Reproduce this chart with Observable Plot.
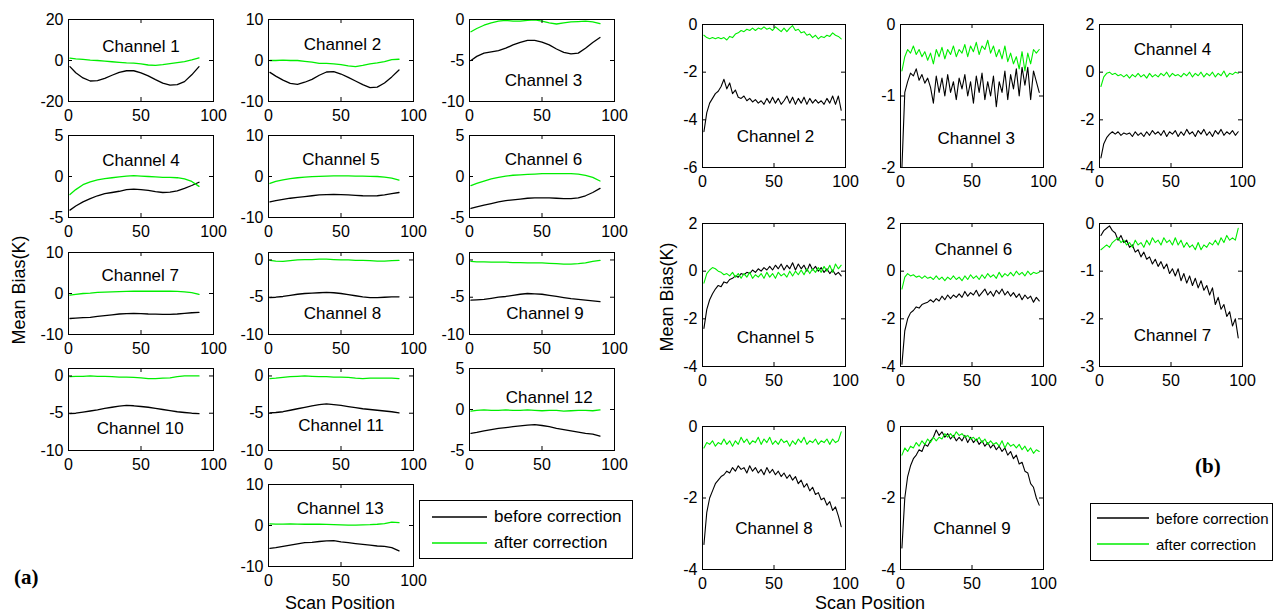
<!DOCTYPE html>
<html><head><meta charset="utf-8">
<script src="https://cdn.jsdelivr.net/npm/d3@7"></script>
<script src="https://cdn.jsdelivr.net/npm/@observablehq/plot@0.6"></script>
<style>
body{margin:0;background:#fff;font-family:"Liberation Sans",Arial,sans-serif;}
#root{position:relative;width:1273px;height:614px;overflow:hidden;background:#fff;}
.abs{position:absolute;white-space:nowrap;color:#000;}
.ylab{font-size:18px;transform:translate(-50%,-50%) rotate(-90deg);}
.xlab{font-size:18px;transform:translate(-50%,-50%);}
.tag{font-family:"Liberation Serif","Times New Roman",serif;font-weight:bold;font-size:21px;}
.legend{border:1px solid #000;background:#fff;box-sizing:border-box;}
</style></head><body><div id="root"></div>
<script>
// ---------- DATA ----------
const scanA = [1,5,10,15,20,25,30,35,40,45,50,55,60,65,70,75,80,85,90];
const scanB = [1,3,5,7,9,11,13,15,17,19,21,23,25,27,29,31,33,35,37,39,41,43,45,47,49,51,53,55,57,59,61,63,65,67,69,71,73,75,77,79,81,83,85,87,89,91,93,95,97];
const xTicks = [0,50,100];
const seriesNames = ["before correction","after correction"];

// (a) panels: before / after correction
const a1b = [-3,-6,-8.5,-10,-9.8,-8.7,-7.2,-5.8,-5,-5,-6,-7.5,-9.3,-11,-12,-11.8,-10.3,-7,-3];
const a1g = [1.2,0.8,0.5,0.2,0,-0.3,-0.6,-0.9,-1.2,-1.3,-1.6,-2.2,-2.4,-2.0,-1.5,-1.0,-0.5,0.3,1.3];
const a2b = [-2.9,-3.8,-4.8,-5.6,-5.8,-5.3,-4.6,-3.6,-2.8,-2.7,-3.3,-4.1,-5.0,-5.9,-6.6,-6.5,-5.5,-4.0,-2.3];
const a2g = [0,0,0.1,0,0,-0.2,-0.4,-0.7,-0.7,-0.8,-1.0,-1.3,-1.5,-1.2,-0.8,-0.6,-0.3,0.2,0.3];
const a3b = [-5.0,-4.5,-4.1,-3.95,-3.8,-3.5,-3.1,-2.8,-2.55,-2.55,-2.75,-3.1,-3.6,-4.0,-4.2,-4.1,-3.5,-2.8,-2.2];
const a3g = [-1.5,-1.1,-0.7,-0.4,-0.2,-0.1,-0.2,-0.2,-0.1,-0.05,-0.2,-0.4,-0.55,-0.4,-0.3,-0.25,-0.2,-0.3,-0.5];
const a4b = [-4.1,-3.6,-3.1,-2.7,-2.35,-2.1,-1.95,-1.8,-1.6,-1.55,-1.6,-1.7,-1.85,-1.95,-1.9,-1.75,-1.45,-1.1,-0.7];
const a4g = [-2.2,-1.6,-1.0,-0.65,-0.4,-0.25,-0.15,-0.05,0.05,0.1,0.05,0,-0.05,-0.1,-0.1,-0.15,-0.3,-0.6,-1.2];
const a5b = [-6.2,-5.9,-5.6,-5.3,-5.1,-4.9,-4.7,-4.5,-4.4,-4.35,-4.4,-4.5,-4.6,-4.7,-4.75,-4.7,-4.5,-4.2,-3.9];
const a5g = [-1.7,-1.2,-0.8,-0.5,-0.3,-0.15,-0.05,0.05,0.1,0.15,0.15,0.15,0.1,0.1,0.05,0,-0.15,-0.4,-0.9];
const a6b = [-3.9,-3.7,-3.5,-3.3,-3.1,-2.95,-2.85,-2.75,-2.65,-2.6,-2.6,-2.6,-2.65,-2.7,-2.7,-2.6,-2.35,-1.95,-1.45];
const a6g = [-1.1,-0.85,-0.55,-0.3,-0.1,0.05,0.15,0.2,0.25,0.3,0.35,0.35,0.35,0.35,0.35,0.3,0.15,-0.1,-0.55];
const a7b = [-6.1,-6.0,-5.9,-5.8,-5.6,-5.4,-5.2,-5.0,-4.9,-4.85,-4.9,-5.0,-5.05,-5.1,-5.1,-5.0,-4.85,-4.7,-4.6];
const a7g = [-0.4,-0.2,0,0.1,0.25,0.35,0.4,0.45,0.5,0.55,0.55,0.55,0.55,0.55,0.55,0.5,0.4,0.2,-0.2];
const a8b = [-5.05,-5.0,-4.9,-4.75,-4.6,-4.5,-4.45,-4.4,-4.35,-4.4,-4.5,-4.65,-4.8,-4.95,-5.05,-5.05,-5.0,-4.95,-4.95];
const a8g = [-0.05,-0.15,-0.2,-0.1,0,0.05,0.05,0.1,0.1,0.05,0,0,-0.05,-0.05,-0.1,-0.15,-0.15,-0.1,-0.05];
const a9b = [-5.4,-5.35,-5.3,-5.15,-5.0,-4.9,-4.75,-4.6,-4.5,-4.55,-4.6,-4.75,-4.9,-5.05,-5.2,-5.3,-5.4,-5.5,-5.6];
const a9g = [-0.2,-0.25,-0.25,-0.3,-0.3,-0.3,-0.35,-0.35,-0.4,-0.4,-0.4,-0.45,-0.5,-0.55,-0.55,-0.5,-0.4,-0.2,-0.05];
const a10b = [-5.05,-5.0,-4.85,-4.7,-4.55,-4.35,-4.2,-4.05,-3.95,-4.0,-4.1,-4.2,-4.35,-4.5,-4.65,-4.8,-4.9,-5.0,-5.05];
const a10g = [-0.1,-0.05,-0.05,0,-0.05,-0.05,-0.1,-0.15,-0.15,-0.2,-0.25,-0.35,-0.35,-0.3,-0.25,-0.1,0,0,0];
const a11b = [-4.95,-4.9,-4.8,-4.6,-4.4,-4.2,-4.0,-3.85,-3.75,-3.85,-3.95,-4.1,-4.25,-4.4,-4.5,-4.6,-4.7,-4.8,-4.95];
const a11g = [-0.35,-0.3,-0.2,-0.1,-0.05,0,-0.05,-0.1,-0.1,-0.15,-0.15,-0.2,-0.3,-0.35,-0.3,-0.3,-0.3,-0.3,-0.35];
const a12b = [-2.9,-2.8,-2.6,-2.45,-2.3,-2.2,-2.1,-2.0,-1.9,-1.85,-1.95,-2.1,-2.3,-2.45,-2.6,-2.75,-2.9,-3.0,-3.25];
const a12g = [-0.2,-0.1,-0.05,-0.1,-0.1,-0.05,-0.1,-0.1,-0.05,-0.1,-0.15,-0.1,-0.1,-0.2,-0.15,-0.1,-0.1,-0.15,-0.05];
const a13b = [-5.6,-5.4,-5.1,-4.8,-4.5,-4.2,-4.1,-3.9,-3.75,-3.7,-4.0,-4.2,-4.4,-4.6,-4.8,-5.0,-5.1,-5.4,-6.2];
const a13g = [0.4,0.35,0.35,0.4,0.35,0.3,0.35,0.3,0.25,0.2,0.15,0.1,0.1,0.15,0.2,0.3,0.45,0.8,0.7];

// (b) panels: before / after correction
const b2b = [-4.5,-3.7,-3.3,-3.1,-2.9,-2.8,-2.6,-2.3,-2.7,-2.45, -2.9,-2.75,-3.05,-3.1,-3.0,-3.2,-3.1,-3.25,-3.15,-3.3, -3.2,-3.35,-3.1,-3.3,-3.05,-3.3,-3.1,-3.35,-3.2,-3.0, -3.3,-3.05,-3.35,-3.1,-3.3,-3.05,-3.35,-3.1,-3.3,-3.15, -3.3,-3.2,-3.35,-3.1,-3.3,-3.0,-3.35,-3.0,-3.6];
const b2g = [-0.45,-0.55,-0.6,-0.55,-0.6,-0.55,-0.6,-0.55,-0.65,-0.5, -0.55,-0.4,-0.35,-0.25,-0.3,-0.2,-0.25,-0.15,-0.25,-0.15, -0.2,-0.1,-0.2,-0.15,-0.25,-0.1,-0.2,-0.3,-0.15,-0.3, -0.15,-0.05,-0.25,-0.2,-0.35,-0.3,-0.45,-0.4,-0.55,-0.45, -0.6,-0.5,-0.55,-0.45,-0.5,-0.35,-0.45,-0.5,-0.6];
const b3b = [-2.0,-0.95,-0.8,-0.68,-0.72,-0.62,-0.78,-0.7,-0.82,-0.75, -0.88,-1.1,-0.72,-0.95,-0.75,-1.0,-0.7,-0.95,-0.8,-1.05, -0.75,-0.9,-0.7,-1.0,-0.8,-1.1,-0.72,-0.95,-0.68,-1.05, -0.8,-1.0,-0.72,-1.15,-0.8,-0.95,-0.65,-1.05,-0.7,-0.9, -0.62,-1.0,-0.6,-0.85,-0.6,-1.05,-0.65,-0.8,-0.95];
const b3g = [-0.65,-0.45,-0.35,-0.4,-0.3,-0.42,-0.35,-0.45,-0.38,-0.5, -0.4,-0.55,-0.35,-0.45,-0.32,-0.48,-0.35,-0.42,-0.3,-0.45, -0.35,-0.4,-0.28,-0.45,-0.3,-0.38,-0.25,-0.42,-0.3,-0.35, -0.22,-0.4,-0.3,-0.45,-0.35,-0.48,-0.3,-0.52,-0.4,-0.55, -0.45,-0.62,-0.38,-0.65,-0.4,-0.55,-0.35,-0.4,-0.35];
const b4b = [-3.6,-3.0,-2.75,-2.6,-2.5,-2.6,-2.5,-2.65,-2.55,-2.6, -2.55,-2.7,-2.5,-2.65,-2.55,-2.7,-2.5,-2.65,-2.45,-2.6, -2.5,-2.65,-2.45,-2.7,-2.5,-2.6,-2.45,-2.7,-2.5,-2.65, -2.4,-2.6,-2.5,-2.7,-2.45,-2.6,-2.4,-2.65,-2.5,-2.7, -2.45,-2.6,-2.4,-2.65,-2.5,-2.6,-2.45,-2.65,-2.5];
const b4g = [-0.6,-0.2,-0.05,0.0,-0.1,-0.05,-0.15,-0.1,-0.2,-0.1, -0.25,-0.1,-0.2,-0.05,-0.2,-0.1,-0.25,-0.05,-0.2,-0.1, -0.2,-0.05,-0.15,0.0,-0.2,-0.05,-0.15,-0.1,-0.2,-0.05, -0.15,0.0,-0.2,-0.05,-0.15,0.0,-0.2,-0.05,-0.15,0.0, -0.2,-0.05,-0.15,0.05,-0.2,-0.05,-0.1,0.0,-0.05];
const b5b = [-2.4,-1.6,-1.2,-0.95,-0.75,-0.6,-0.65,-0.45,-0.5,-0.35, -0.3,-0.2,-0.25,-0.1,-0.15,-0.05,-0.1,0.05,-0.05,0.1, 0.0,0.15,0.05,0.2,0.05,0.25,0.1,0.3,0.05,0.25, 0.1,0.35,0.05,0.3,0.1,0.25,0.0,0.3,0.05,0.2, 0.0,0.15,-0.05,0.1,-0.1,0.05,-0.15,-0.05,-0.2];
const b5g = [-0.5,-0.1,0.05,0.15,0.1,0.0,-0.05,-0.15,-0.1,-0.2, -0.05,-0.25,-0.1,-0.3,-0.1,-0.25,-0.05,-0.3,-0.15,-0.25, -0.1,-0.3,-0.05,-0.25,-0.1,-0.3,-0.05,-0.2,-0.1,-0.25, 0.0,-0.2,0.0,-0.15,0.05,-0.15,0.1,-0.1,0.1,-0.05, 0.15,-0.05,0.2,0.0,0.25,-0.05,0.3,0.1,0.25];
const b6b = [-3.9,-2.5,-2.0,-1.75,-1.65,-1.5,-1.55,-1.4,-1.35,-1.3, -1.2,-1.3,-1.15,-1.25,-1.05,-1.2,-1.0,-1.15,-1.0,-1.1, -0.95,-1.1,-0.85,-1.05,-0.9,-1.0,-0.8,-1.05,-0.9,-0.75, -1.0,-0.85,-1.05,-0.8,-0.95,-0.75,-1.0,-0.85,-1.05,-0.9, -1.1,-0.95,-1.2,-1.0,-1.15,-1.05,-1.3,-1.1,-1.25];
const b6g = [-0.75,-0.25,-0.1,-0.2,-0.15,-0.25,-0.2,-0.3,-0.2,-0.3, -0.25,-0.35,-0.2,-0.35,-0.25,-0.4,-0.25,-0.35,-0.2,-0.35, -0.25,-0.4,-0.2,-0.35,-0.15,-0.3,-0.2,-0.35,-0.15,-0.3, -0.1,-0.25,-0.15,-0.3,-0.05,-0.25,-0.1,-0.2,-0.05,-0.2, 0.0,-0.15,-0.05,-0.2,0.0,-0.15,-0.05,-0.1,-0.05];
const b7b = [-0.25,-0.15,-0.1,-0.05,-0.15,-0.2,-0.35,-0.25,-0.4,-0.35, -0.5,-0.45,-0.6,-0.55,-0.7,-0.6,-0.75,-0.7,-0.85,-0.75, -0.9,-0.8,-0.95,-0.85,-1.05,-0.95,-1.1,-0.95,-1.2,-1.05, -1.25,-1.1,-1.3,-1.15,-1.35,-1.2,-1.4,-1.3,-1.5,-1.35, -1.7,-1.55,-1.8,-1.7,-1.95,-1.85,-2.15,-2.0,-2.4];
const b7g = [-0.55,-0.5,-0.45,-0.5,-0.4,-0.35,-0.3,-0.4,-0.35,-0.45, -0.4,-0.5,-0.35,-0.45,-0.4,-0.5,-0.35,-0.45,-0.3,-0.4, -0.35,-0.45,-0.3,-0.4,-0.35,-0.45,-0.3,-0.45,-0.35,-0.5, -0.4,-0.5,-0.45,-0.55,-0.4,-0.55,-0.45,-0.5,-0.4,-0.45, -0.35,-0.45,-0.3,-0.4,-0.25,-0.35,-0.3,-0.35,-0.1];
const b8b = [-3.3,-2.4,-2.0,-1.8,-1.6,-1.5,-1.4,-1.35,-1.25,-1.3, -1.15,-1.25,-1.1,-1.2,-1.15,-1.3,-1.1,-1.25,-1.15,-1.3, -1.2,-1.35,-1.15,-1.3,-1.2,-1.35,-1.25,-1.4,-1.3,-1.45, -1.35,-1.5,-1.4,-1.6,-1.5,-1.7,-1.6,-1.8,-1.7,-1.9, -1.85,-2.05,-2.0,-2.2,-2.1,-2.35,-2.25,-2.5,-2.8];
const b8g = [-0.6,-0.45,-0.5,-0.4,-0.55,-0.45,-0.5,-0.35,-0.5,-0.4, -0.55,-0.4,-0.5,-0.3,-0.45,-0.35,-0.5,-0.4,-0.45,-0.3, -0.5,-0.35,-0.45,-0.3,-0.5,-0.4,-0.5,-0.35,-0.45,-0.4, -0.55,-0.4,-0.5,-0.35,-0.45,-0.3,-0.5,-0.4,-0.45,-0.35, -0.5,-0.4,-0.45,-0.35,-0.5,-0.35,-0.45,-0.4,-0.15];
const b9b = [-3.4,-2.0,-1.4,-1.1,-0.9,-0.8,-0.65,-0.7,-0.5,-0.55, -0.4,-0.3,-0.1,-0.25,-0.15,-0.3,-0.2,-0.35,-0.25,-0.4, -0.3,-0.4,-0.25,-0.45,-0.3,-0.45,-0.35,-0.5,-0.4,-0.55, -0.45,-0.6,-0.5,-0.65,-0.55,-0.7,-0.6,-0.8,-0.7,-0.9, -0.8,-1.05,-1.0,-1.25,-1.3,-1.6,-1.7,-2.0,-2.2];
const b9g = [-0.8,-0.6,-0.7,-0.55,-0.6,-0.45,-0.55,-0.4,-0.5,-0.35, -0.45,-0.3,-0.4,-0.3,-0.35,-0.2,-0.3,-0.2,-0.3,-0.15, -0.25,-0.2,-0.3,-0.25,-0.35,-0.3,-0.4,-0.3,-0.45,-0.35, -0.5,-0.4,-0.5,-0.45,-0.55,-0.4,-0.6,-0.45,-0.55,-0.5, -0.6,-0.5,-0.65,-0.55,-0.7,-0.6,-0.75,-0.65,-0.7];

// ---------- PANEL CONFIG ----------
const panelsA = [
  {name:"Channel 1", b:a1b, g:a1g, yd:[-20,20], yt:[-20,0,20], lab:[50,7], c:0, r:0},
  {name:"Channel 2", b:a2b, g:a2g, yd:[-10,10], yt:[-10,0,10], lab:[51,4], c:1, r:0},
  {name:"Channel 3", b:a3b, g:a3g, yd:[-10,0], yt:[-10,-5,0], lab:[51,-7.4], c:2, r:0},
  {name:"Channel 4", b:a4b, g:a4g, yd:[-5,5], yt:[-5,0,5], lab:[50,2], c:0, r:1},
  {name:"Channel 5", b:a5b, g:a5g, yd:[-10,10], yt:[-10,0,10], lab:[50,4.1], c:1, r:1},
  {name:"Channel 6", b:a6b, g:a6g, yd:[-5,5], yt:[-5,0,5], lab:[51,2.1], c:2, r:1},
  {name:"Channel 7", b:a7b, g:a7g, yd:[-10,10], yt:[-10,0,10], lab:[49.5,4.3], c:0, r:2},
  {name:"Channel 8", b:a8b, g:a8g, yd:[-10,1], yt:[-10,-5,0], lab:[51,-7.2], c:1, r:2},
  {name:"Channel 9", b:a9b, g:a9g, yd:[-10,1], yt:[-10,-5,0], lab:[52,-7.2], c:2, r:2},
  {name:"Channel 10", b:a10b, g:a10g, yd:[-10,1], yt:[-10,-5,0], lab:[49.5,-7.1], c:0, r:3},
  {name:"Channel 11", b:a11b, g:a11g, yd:[-10,1], yt:[-10,-5,0], lab:[50,-6.7], c:1, r:3},
  {name:"Channel 12", b:a12b, g:a12g, yd:[-5,5], yt:[-5,0,5], lab:[55,1.5], c:2, r:3},
  {name:"Channel 13", b:a13b, g:a13g, yd:[-10,10], yt:[-10,0,10], lab:[49.5,4.2], c:1, r:4}
];
const panelsB = [
  {name:"Channel 2", b:b2b, g:b2g, yd:[-6,0], yt:[-6,-4,-2,0], lab:[51,-4.7], c:0, r:0},
  {name:"Channel 3", b:b3b, g:b3g, yd:[-2,0], yt:[-2,-1,0], lab:[53,-1.6], c:1, r:0},
  {name:"Channel 4", b:b4b, g:b4g, yd:[-4,2], yt:[-4,-2,0,2], lab:[51,0.93], c:2, r:0},
  {name:"Channel 5", b:b5b, g:b5g, yd:[-4,2], yt:[-4,-2,0,2], lab:[51,-2.8], c:0, r:1},
  {name:"Channel 6", b:b6b, g:b6g, yd:[-4,2], yt:[-4,-2,0,2], lab:[51,0.9], c:1, r:1},
  {name:"Channel 7", b:b7b, g:b7g, yd:[-3,0], yt:[-3,-2,-1,0], lab:[51,-2.36], c:2, r:1},
  {name:"Channel 8", b:b8b, g:b8g, yd:[-4,0], yt:[-4,-2,0], lab:[50,-2.85], c:0, r:2},
  {name:"Channel 9", b:b9b, g:b9g, yd:[-4,0], yt:[-4,-2,0], lab:[50,-2.85], c:1, r:2}
];
const layoutA = {cols:[68,268,469], rows:[19,135,252,368,484], w:145, h:82, sw:1.3};
const layoutB = {cols:[702,900,1099], rows:[24,223,426], w:143, h:143, sw:1.1};

const FONT = '"Liberation Sans", Arial, sans-serif';
const BLACK = "#000000", GREEN = "#00ee00";
const ML = 40, MR = 22, MT = 10, MB = 30;
const root = document.getElementById("root");

function drawPanel(p, scan, L) {
  const w = L.w, h = L.h;
  const left = L.cols[p.c], top = L.rows[p.r];
  const bData = scan.map((x, i) => ({x, y: p.b[i]}));
  const gData = scan.map((x, i) => ({x, y: p.g[i]}));
  const svg = Plot.plot({
    width: w + ML + MR, height: h + MT + MB,
    marginLeft: ML, marginRight: MR, marginTop: MT, marginBottom: MB,
    x: {domain: [0, 100]},
    y: {domain: p.yd},
    style: {fontFamily: FONT, fontSize: "16px", color: "#000", background: "transparent", overflow: "visible"},
    marks: [
      Plot.line(bData, {x: "x", y: "y", stroke: BLACK, strokeWidth: L.sw}),
      Plot.line(gData, {x: "x", y: "y", stroke: GREEN, strokeWidth: L.sw}),
      Plot.text([p.name], {x: () => p.lab[0], y: () => p.lab[1], text: d => d, fontSize: 17, fill: "#000"}),
      Plot.ruleX(xTicks, {stroke: "#000", insetTop: h - 4}),
      Plot.ruleX(xTicks, {stroke: "#000", insetBottom: h - 4}),
      Plot.ruleY(p.yt, {stroke: "#000", insetRight: w - 4}),
      Plot.ruleY(p.yt, {stroke: "#000", insetLeft: w - 4}),
      Plot.frame({stroke: "#000", strokeWidth: 1}),
      Plot.axisX({ticks: xTicks, tickSize: 0, tickPadding: 8, label: null, fontSize: 16, tickFormat: d => String(d)}),
      Plot.axisY({ticks: p.yt, tickSize: 0, tickPadding: 5, label: null, fontSize: 16, tickFormat: d => String(d)})
    ]
  });
  svg.style.position = "absolute";
  svg.style.left = (left - ML) + "px";
  svg.style.top = (top - MT) + "px";
  svg.style.maxWidth = "none";
  root.appendChild(svg);
}
panelsA.forEach(p => drawPanel(p, scanA, layoutA));
panelsB.forEach(p => drawPanel(p, scanB, layoutB));

function addText(cls, txt, x, y) {
  const d = document.createElement("div");
  d.className = "abs " + cls;
  d.textContent = txt;
  d.style.left = x + "px"; d.style.top = y + "px";
  root.appendChild(d);
  return d;
}
addText("ylab", "Mean Bias(K)", 19, 290);
addText("ylab", "Mean Bias(K)", 667, 297);
addText("xlab", "Scan Position", 340, 603);
addText("xlab", "Scan Position", 870, 603);
addText("tag", "(a)", 14, 565);
addText("tag", "(b)", 1195, 454);

function addLegend(x, y, w, h, lineX0, lineLen, textX, rowY, fs) {
  const box = document.createElement("div");
  box.className = "abs legend";
  Object.assign(box.style, {left: x + "px", top: y + "px", width: w + "px", height: h + "px"});
  const ns = "http://www.w3.org/2000/svg";
  const s = document.createElementNS(ns, "svg");
  s.setAttribute("width", w); s.setAttribute("height", h);
  Object.assign(s.style, {position: "absolute", left: "-1px", top: "-1px"});
  box.appendChild(s);
  seriesNames.forEach((name, i) => {
    const color = i === 0 ? BLACK : GREEN;
    const ln = document.createElementNS(ns, "line");
    ln.setAttribute("x1", lineX0); ln.setAttribute("x2", lineX0 + lineLen);
    ln.setAttribute("y1", rowY[i]); ln.setAttribute("y2", rowY[i]);
    ln.setAttribute("stroke", color); ln.setAttribute("stroke-width", 1.4);
    s.appendChild(ln);
    const t = document.createElement("div");
    t.textContent = name;
    Object.assign(t.style, {position: "absolute", left: textX + "px", top: (rowY[i] - 1) + "px", transform: "translateY(-50%)", fontSize: fs + "px", whiteSpace: "nowrap", color: "#000"});
    box.appendChild(t);
  });
  root.appendChild(box);
}
addLegend(419, 500, 214, 59, 13, 55, 74, [17, 43], 17);
addLegend(1090, 503, 183, 58, 7, 52, 65, [15, 41], 15);
</script></body></html>
